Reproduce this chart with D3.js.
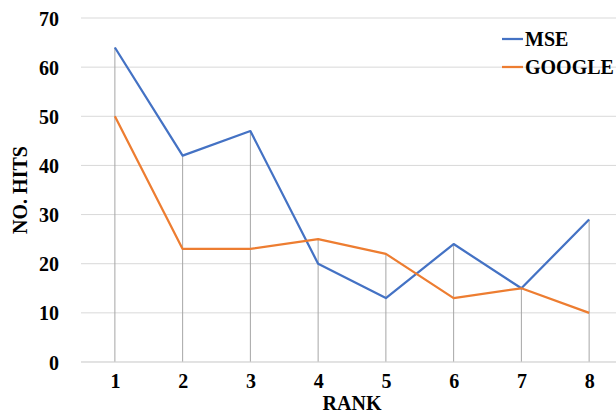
<!DOCTYPE html>
<html><head><meta charset="utf-8">
<script src="https://cdn.jsdelivr.net/npm/d3@7"></script>
<style>body{margin:0;background:#fff}svg{display:block}
svg text{font-family:'Liberation Serif','Times New Roman',Times,serif !important;font-weight:bold !important;fill:#000}</style>
</head><body>
<svg id="c" width="616" height="414"></svg>
<script>
const ranks = ["1","2","3","4","5","6","7","8"];
const mse = [64, 42, 47, 20, 13, 24, 15, 29];
const google = [50, 23, 23, 25, 22, 13, 15, 10];
const yTicks = [0, 10, 20, 30, 40, 50, 60, 70];
const seriesNames = ["MSE", "GOOGLE"];
const colors = ["#4472C4", "#ED7D31"];

(function () {
const svg = d3.select("#c");
const pL = 81, pR = 623, pT = 18, pB = 362;
const x = d3.scalePoint().domain(ranks).range([pL, pR]).padding(0.5);
const y = d3.scaleLinear().domain([0, 70]).range([pB, pT]);

// gridlines
svg.append("g").selectAll("line").data(yTicks).join("line")
  .attr("x1", pL).attr("x2", 616)
  .attr("y1", d => y(d)).attr("y2", d => y(d))
  .attr("stroke", "#d9d9d9").attr("stroke-width", 1);

// drop lines
svg.append("g").selectAll("line").data(ranks).join("line")
  .attr("x1", d => x(d)).attr("x2", d => x(d))
  .attr("y1", y(0)).attr("y2", (d, i) => y(Math.max(mse[i], google[i])))
  .attr("stroke", "#a6a6a6").attr("stroke-width", 1);

// y axis labels
const yAxis = d3.axisLeft(y).tickValues(yTicks).tickSize(0).tickPadding(0);
const gy = svg.append("g").attr("transform", `translate(59,0)`).call(yAxis);
gy.select(".domain").remove();
gy.attr("font-family", null).attr("font-size", null);
gy.selectAll("text").attr("font-size", 20).attr("dy", "0.35em");

// x axis
const xAxis = d3.axisBottom(x).tickSize(0).tickPadding(0);
const gx = svg.append("g").attr("transform", `translate(0,${pB})`).call(xAxis);
gx.select(".domain").remove();
gx.attr("font-family", null).attr("font-size", null);
gx.selectAll("text").attr("font-size", 20).attr("y", 26).attr("dy", 0);
svg.append("line").attr("x1", pL).attr("x2", 616).attr("y1", pB).attr("y2", pB).attr("stroke", "#d9d9d9");

// lines
const line = d3.line().x((d, i) => x(ranks[i])).y(d => y(d));
[mse, google].forEach((s, k) => {
  svg.append("path").datum(s).attr("d", line).attr("fill", "none")
    .attr("stroke", colors[k]).attr("stroke-width", 2.25).attr("stroke-linejoin", "round");
});

// titles
svg.append("text").attr("x", (pL + pR) / 2).attr("y", 410).attr("text-anchor", "middle").attr("font-size", 20).text("RANK");
svg.append("text").attr("transform", `translate(27,${(pT + pB) / 2}) rotate(-90)`).attr("text-anchor", "middle").attr("font-size", 20).text("NO. HITS");

// legend
const lg = svg.append("g");
seriesNames.forEach((n, k) => {
  const ly = 39 + k * 28;
  lg.append("line").attr("x1", 502).attr("x2", 523).attr("y1", ly).attr("y2", ly).attr("stroke", colors[k]).attr("stroke-width", 2.25);
  lg.append("text").attr("x", 525).attr("y", ly + 7).attr("font-size", 20).text(n);
});
})();
</script>
</body></html>
